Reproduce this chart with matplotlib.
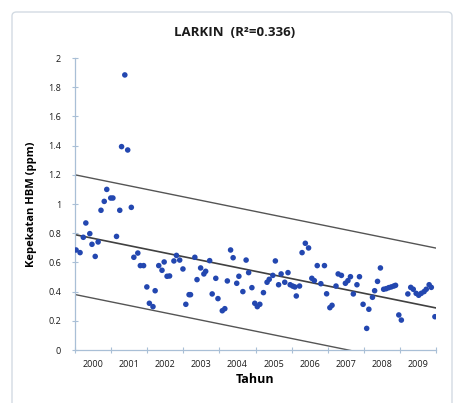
import numpy as np
import matplotlib
matplotlib.use("Agg")
import matplotlib.pyplot as plt
from matplotlib.patches import FancyBboxPatch

plt.rcParams['font.family'] = ['Open Sans', 'DejaVu Sans']

# bacaan bulanan (tahun desimal, ppm)
tahun = [2000.03, 2000.14, 2000.23, 2000.30, 2000.41, 2000.47, 2000.56, 2000.64, 2000.72, 2000.81,
         2000.88, 2000.99, 2001.05, 2001.15, 2001.24, 2001.29, 2001.38, 2001.46, 2001.56, 2001.63,
         2001.74, 2001.81, 2001.90, 2001.99, 2002.06, 2002.16, 2002.22, 2002.32, 2002.41, 2002.47,
         2002.55, 2002.62, 2002.74, 2002.81, 2002.90, 2002.99, 2003.07, 2003.16, 2003.20, 2003.32,
         2003.38, 2003.48, 2003.57, 2003.62, 2003.73, 2003.80, 2003.90, 2003.96, 2004.08, 2004.15,
         2004.22, 2004.31, 2004.38, 2004.48, 2004.54, 2004.65, 2004.74, 2004.81, 2004.90, 2004.98,
         2005.05, 2005.12, 2005.22, 2005.32, 2005.38, 2005.48, 2005.55, 2005.64, 2005.71, 2005.81,
         2005.90, 2005.96, 2006.03, 2006.09, 2006.13, 2006.22, 2006.29, 2006.38, 2006.47, 2006.56,
         2006.63, 2006.71, 2006.81, 2006.91, 2006.97, 2007.06, 2007.12, 2007.23, 2007.29, 2007.38,
         2007.49, 2007.56, 2007.63, 2007.71, 2007.81, 2007.88, 2007.98, 2008.08, 2008.14, 2008.24,
         2008.30, 2008.38, 2008.46, 2008.55, 2008.62, 2008.69, 2008.76, 2008.83, 2008.88, 2008.97,
         2009.04, 2009.22, 2009.30, 2009.37, 2009.45, 2009.52, 2009.59, 2009.67, 2009.73, 2009.81,
         2009.87, 2009.97]
hbm = [0.685, 0.667, 0.772, 0.870, 0.797, 0.724, 0.641, 0.740, 0.957, 1.018,
       1.100, 1.041, 1.041, 0.778, 0.957, 1.393, 1.884, 1.370, 0.977, 0.635,
       0.664, 0.578, 0.578, 0.432, 0.320, 0.297, 0.406, 0.578, 0.546, 0.603,
       0.505, 0.507, 0.610, 0.648, 0.616, 0.555, 0.313, 0.379, 0.379, 0.635,
       0.482, 0.562, 0.521, 0.539, 0.612, 0.384, 0.491, 0.352, 0.269, 0.283,
       0.473, 0.685, 0.632, 0.457, 0.505, 0.400, 0.616, 0.530, 0.427, 0.320,
       0.297, 0.313, 0.393, 0.464, 0.484, 0.511, 0.610, 0.447, 0.521, 0.464,
       0.530, 0.447, 0.438, 0.432, 0.370, 0.438, 0.667, 0.731, 0.699, 0.491,
       0.475, 0.578, 0.454, 0.578, 0.385, 0.290, 0.306, 0.438, 0.521, 0.511,
       0.457, 0.475, 0.502, 0.384, 0.447, 0.502, 0.313, 0.148, 0.279, 0.361,
       0.406, 0.470, 0.562, 0.416, 0.420, 0.427, 0.432, 0.438, 0.443, 0.240,
       0.205, 0.384, 0.429, 0.416, 0.388, 0.375, 0.388, 0.400, 0.416, 0.447,
       0.429, 0.228]

# garis trend dan had atas/bawah
trend_awal = 0.79      # nilai pada 2000
trend_cerun = -0.0502  # ppm setahun
jalur = 0.41

label_tahun = ['2000', '2001', '2002', '2003', '2004', '2005', '2006', '2007', '2008', '2009']
label_y = ['0', '0.2', '0.4', '0.6', '0.8', '1', '1.2', '1.4', '1.6', '1.8', '2']

fig = plt.figure(figsize=(4.58, 4.03), dpi=100)
bingkai = FancyBboxPatch((12 / 458, -0.05), 440 / 458, 1 - 12 / 403 + 0.05,
                         boxstyle="round,pad=0,rounding_size=0.01",
                         transform=fig.transFigure, fc='white', ec='#d3dbe3', lw=1.0, zorder=-5)
fig.patches.append(bingkai)
ax = fig.add_axes([75 / 458, 53 / 403, 361 / 458, 292 / 403])
ax.set_zorder(2)
ax.patch.set_alpha(0)

xx = np.array([2000, 2010])
tr = trend_awal + trend_cerun * (xx - 2000)
ax.plot(xx, tr, color='#404040', lw=1.2, zorder=2)
ax.plot(xx, tr + jalur, color='#555555', lw=1.0, zorder=2)
ax.plot(xx, tr - jalur, color='#555555', lw=1.0, zorder=2)
ax.scatter(tahun, hbm, s=16, color='#2347b0', edgecolors='none', zorder=3)

ax.set_xlim(2000, 2010)
ax.set_ylim(0, 2)
ax.set_xticks(np.arange(2000, 2011))
ax.set_xticklabels([])
ax.set_xticks(np.arange(2000.5, 2010, 1), minor=True)
ax.set_xticklabels(label_tahun, minor=True)
ax.tick_params(axis='x', which='minor', length=0, pad=7)
ax.set_yticks(np.linspace(0, 2, 11))
ax.set_yticklabels(label_y)
ax.tick_params(which='major', direction='inout', length=4, color='#a9bfd6', width=0.8)
ax.tick_params(which='both', labelsize=6.5, labelcolor='#1a1a1a')
ax.tick_params(axis='y', pad=8)

for s in ['top', 'right']:
    ax.spines[s].set_visible(False)
for s in ['left', 'bottom']:
    ax.spines[s].set_color('#a9bfd6')
    ax.spines[s].set_linewidth(0.9)

ax.set_xlabel('Tahun', fontsize=9, fontweight='bold', labelpad=3)
ax.set_ylabel('Kepekatan HBM (ppm)', fontsize=8, fontweight='bold', labelpad=8)
fig.text(235 / 458, 1 - 32 / 403, 'LARKIN  (R²=0.336)', ha='center', va='center',
         fontsize=9.5, fontweight='bold', color='#1a1a1a')

fig.savefig('out.png', dpi=100)
